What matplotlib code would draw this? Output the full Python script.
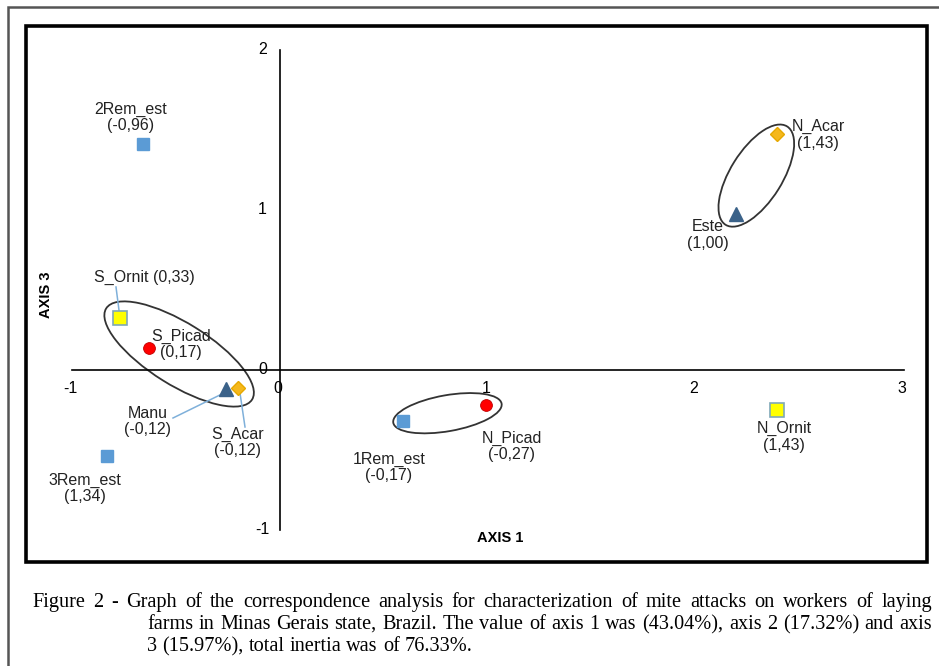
import matplotlib
matplotlib.use("Agg")
import matplotlib.pyplot as plt
from matplotlib.patches import Ellipse, Rectangle
from matplotlib.transforms import ScaledTranslation

plt.rcParams['font.family'] = ['Liberation Sans', 'DejaVu Sans']

# Coordenadas (eixo 1, eixo 3)
nomes = ["2Rem_est", "S_Ornit", "S_Picad", "Manu", "S_Acar", "3Rem_est",
         "1Rem_est", "N_Picad", "N_Ornit", "Este", "N_Acar"]
eixo1 = [-0.66, -0.77, -0.63, -0.26, -0.20, -0.83, 0.59, 0.99, 2.39, 2.19, 2.39]
eixo3 = [1.41, 0.325, 0.14, -0.12, -0.11, -0.54, -0.32, -0.22, -0.25, 0.975, 1.475]
valores = ["(-0,96)", "(0,33)", "(0,17)", "(-0,12)", "(-0,12)", "(1,34)",
           "(-0,17)", "(-0,27)", "(1,43)", "(1,00)", "(1,43)"]
tipos = ["rem", "ornit", "picad", "manu", "acar", "rem",
         "rem", "picad", "ornit", "manu", "acar"]

x_ticks = [-1, 0, 1, 2, 3]
y_ticks = [-1, 0, 1, 2]

ESTILOS = {
    "rem":   dict(marker="s", ms=9, mfc="#5B9BD5", mec="#5B9BD5"),
    "ornit": dict(marker="s", ms=10, mfc="#FFFF00", mec="#7FA8B8", mew=1.2),
    "picad": dict(marker="o", ms=8.5, mfc="#FF0000", mec="#C00000", mew=0.6),
    "manu":  dict(marker="^", ms=9.5, mfc="#3B6289", mec="#3B6289"),
    "acar":  dict(marker="D", ms=7.5, mfc="#F5B81C", mec="#E6A800"),
}

# deslocamento do rótulo em pixels (dx, dy)
desloc = [(-12, 27), (25, 41), (32, 3), (-78, -32), (-1, -55), (-22, -32),
          (-14, -46), (26, -41), (7, -27), (-28, -21), (41, -1)]

W, H = 939, 666
X0, Y0, SX, SY = 280, 370, 208, 160  # origem e escala em pixels


def px2d(px, py):
    return (px - X0) / SX, (Y0 - py) / SY


fig = plt.figure(figsize=(W / 100, H / 100), dpi=100)
ax = fig.add_axes([0, 0, 1, 1])
ax.set_xlim(px2d(0, 0)[0], px2d(W, 0)[0])
ax.set_ylim(px2d(0, H)[1], px2d(0, 0)[1])
ax.axis("off")

# molduras
def fr(px, py):
    return px / W, 1 - py / H

fig.add_artist(Rectangle(fr(8, 700), 1.2, (700 - 7) / H, transform=fig.transFigure,
                         fill=False, lw=1.8, ec="#555555"))
fig.add_artist(Rectangle(fr(26, 562), (927 - 26) / W, (562 - 26) / H,
                         transform=fig.transFigure, fill=False, lw=2.6, ec="black"))

# eixos
ax.plot([x_ticks[0], x_ticks[-1]], [0, 0], color="black", lw=1.2)
ax.plot([0, 0], [y_ticks[0], y_ticks[-1]], color="black", lw=1.2)
for t in x_ticks:
    ax.text(t - 0.01, -0.115, str(t), ha="center", va="center", fontsize=11.5)
for t in y_ticks:
    ax.text(-0.085, t, str(t), ha="center", va="center", fontsize=11.5)

ax.text(*px2d(500, 538), "AXIS 1", ha="center", va="center", fontsize=10.5, fontweight="bold")
ax.text(*px2d(46, 295), "AXIS 3", ha="center", va="center", fontsize=10.5,
        fontweight="bold", rotation=90)

# elipses (centro em dados, eixos em pixels)
elipses = [((-0.485, 0.10), 86, 31, -32), ((0.805, -0.27), 55, 18, 10),
           ((2.29, 1.215), 58, 26, 58)]
for (cx, cy), a, b, ang in elipses:
    tr = fig.dpi_scale_trans + ScaledTranslation(cx, cy, ax.transData)
    ax.add_patch(Ellipse((0, 0), 2 * a / 100, 2 * b / 100, angle=ang, transform=tr,
                         fill=False, ec="#333333", lw=1.3))

# linhas de chamada
chamadas = [((116, 287), (120, 318)), ((173, 418), (226, 392)), ((240, 393), (245, 427))]
for p1, p2 in chamadas:
    (xa, ya), (xb, yb) = px2d(*p1), px2d(*p2)
    ax.plot([xa, xb], [ya, yb], color="#7FB0DA", lw=1.1)

for x, y, t in zip(eixo1, eixo3, tipos):
    ax.plot(x, y, ls="none", **ESTILOS[t])

for x, y, n, v, (dx, dy) in zip(eixo1, eixo3, nomes, valores, desloc):
    txt = n + " " + v if n == "S_Ornit" else n + "\n" + v
    ax.annotate(txt, (x, y), xytext=(dx, dy), textcoords="offset pixels",
                ha="center", va="center", fontsize=11.5, linespacing=1.1, color="#222222")

# legenda (texto justificado)
linhas = [
    "Figure 2 - Graph of the correspondence analysis for characterization of mite attacks on workers of laying",
    "farms in Minas Gerais state, Brazil. The value of axis 1 was (43.04%), axis 2 (17.32%) and axis",
    "3 (15.97%), total inertia was of 76.33%.",
]
inicio = [32, 147, 147]
bases = [607, 629, 651]
fim = 932
FS = 14.6
rend = fig.canvas.get_renderer()
esp_normal = FS * 100 / 72 * 0.25
for i, (linha, x0, yy) in enumerate(zip(linhas, inicio, bases)):
    palavras = linha.split(" ")
    objs = [fig.text(0, 0, p, fontsize=FS, family="Liberation Serif", va="baseline")
            for p in palavras]
    larg = [o.get_window_extent(rend).width for o in objs]
    if i < 2:
        esp = (fim - x0 - sum(larg)) / (len(palavras) - 1)
    else:
        esp = esp_normal
    xc = x0
    for o, w in zip(objs, larg):
        o.set_position(fr(xc, yy))
        xc += w + esp

fig.savefig("out.png", dpi=100, facecolor="white")
